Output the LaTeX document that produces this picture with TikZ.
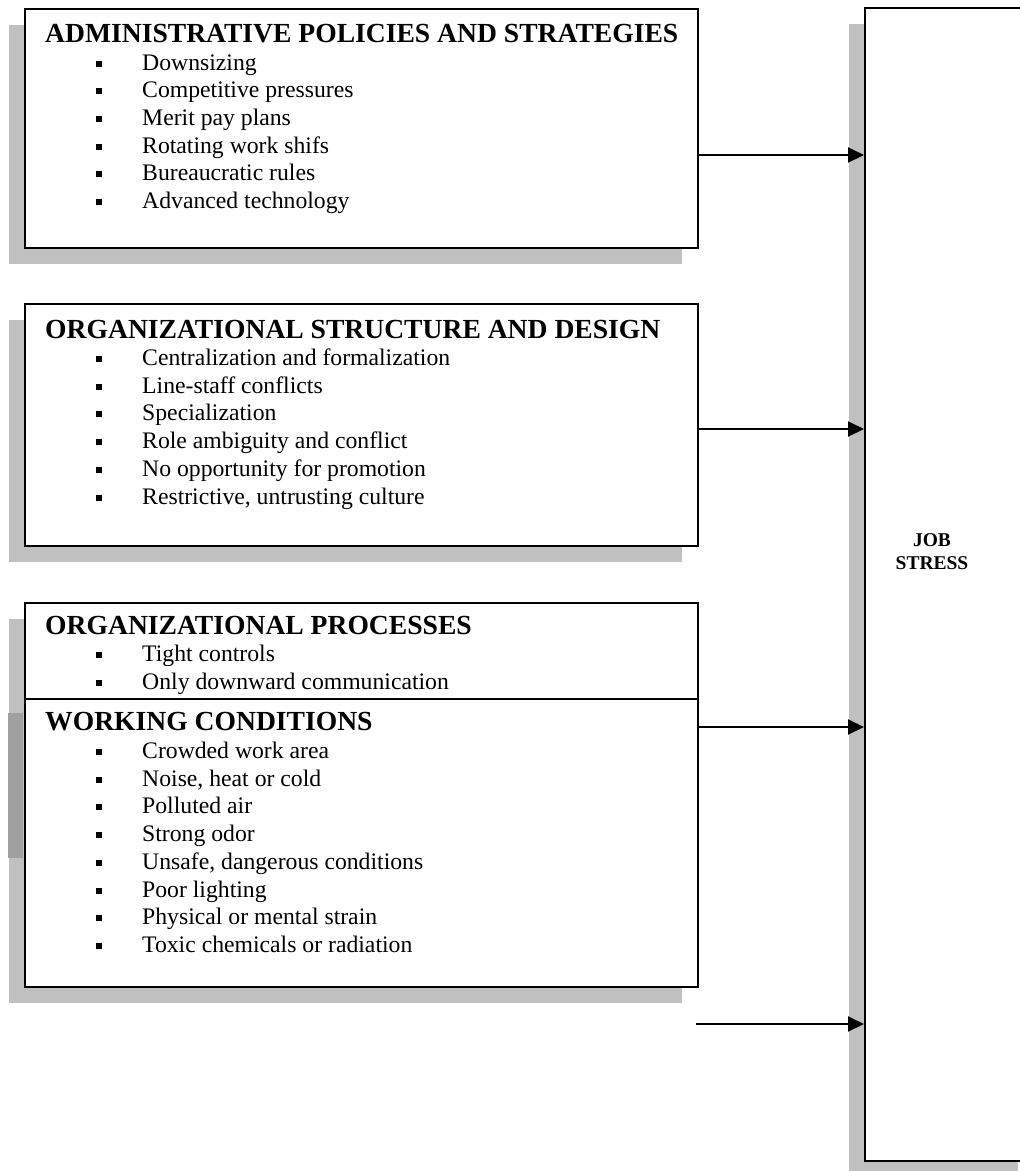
\documentclass[tikz,border=0pt]{standalone}
\usepackage{fontspec}
\setmainfont{Liberation Serif}
\usetikzlibrary{arrows.meta,shadows}

\definecolor{shadowgray}{RGB}{192,192,192}
\definecolor{overlapgray}{RGB}{160,160,160}

\tikzset{
  factorbox/.style={draw, line width=1.6pt, fill=white, anchor=north west, inner sep=0pt,
    drop shadow={shadow xshift=-16pt, shadow yshift=-16pt, fill=shadowgray, opacity=1}},
  heading/.style={anchor=base west, inner sep=0pt, font=\fontsize{27.6}{30}\selectfont\bfseries},
  entry/.style={anchor=base west, inner sep=0pt, font=\fontsize{23.7}{27.7}\selectfont},
  link/.style={-{Triangle[length=16pt,width=15pt]}, line width=2pt},
}
\newcommand{\bul}{\rule[3.5pt]{6pt}{6pt}\hspace{40pt}}

\begin{document}
\begin{tikzpicture}[x=1pt, y=-1pt]
    \useasboundingbox (0,0) rectangle (1020,1171);

    % job stress
    \node[factorbox, minimum width=169pt, minimum height=1153pt] (stress) at (864,7) {};
    \node[font=\fontsize{19.5}{23}\selectfont\bfseries, align=center] (stresslabel) at (932,552) {JOB\\STRESS};

    % administrative policies
    \node[factorbox, minimum width=673pt, minimum height=239pt] (admin) at (24,8) {};
    \node[heading] (admin-head) at (45,42) {ADMINISTRATIVE POLICIES AND STRATEGIES};
    \foreach \txt [count=\k] in {Downsizing, Competitive pressures, Merit pay plans,
        Rotating work shifs, Bureaucratic rules, Advanced technology}
        \node[entry] (admin-\k) at (96,{70+27.7*(\k-1)}) {\bul\txt};

    % organizational structure
    \node[factorbox, minimum width=673pt, minimum height=242pt] (struct) at (24,303) {};
    \node[heading] (struct-head) at (45,338) {ORGANIZATIONAL STRUCTURE AND DESIGN};
    \foreach \txt [count=\k] in {Centralization and formalization, Line-staff conflicts,
        Specialization, Role ambiguity and conflict, No opportunity for promotion,
        {Restrictive, untrusting culture}}
        \node[entry] (struct-\k) at (96,{365.5+27.7*(\k-1)}) {\bul\txt};

    % organizational processes
    \node[factorbox, minimum width=673pt, minimum height=240pt] (procs) at (24,602) {};
    \node[heading] (procs-head) at (45,634) {ORGANIZATIONAL PROCESSES};
    \foreach \txt [count=\k] in {Tight controls, Only downward communication}
        \node[entry] (procs-\k) at (96,{661.5+27.7*(\k-1)}) {\bul\txt};

    % working conditions
    \node[factorbox, minimum width=673pt, minimum height=288pt] (work) at (24,698) {};
    \node[heading] (work-head) at (45,730) {WORKING CONDITIONS};
    \foreach \txt [count=\k] in {Crowded work area, {Noise, heat or cold}, Polluted air,
        Strong odor, {Unsafe, dangerous conditions}, Poor lighting,
        Physical or mental strain, Toxic chemicals or radiation}
        \node[entry] (work-\k) at (96,{758.5+27.7*(\k-1)}) {\bul\txt};

    \fill[overlapgray] (8,713) rectangle (23.2,858);

    % arrows
    \coordinate (adminout) at ([yshift=-147pt]admin.north east);
    \coordinate (structout) at ([yshift=-126pt]struct.north east);
    \coordinate (workout) at ([yshift=-29pt]work.north east);
    \coordinate (loose) at (696,1024);
    \draw[link] (adminout) -- (adminout -| stress.west);
    \draw[link] (structout) -- (structout -| stress.west);
    \draw[link] (workout) -- (workout -| stress.west);
    \draw[link] (loose) -- (loose -| stress.west);

\end{tikzpicture}
\end{document}
